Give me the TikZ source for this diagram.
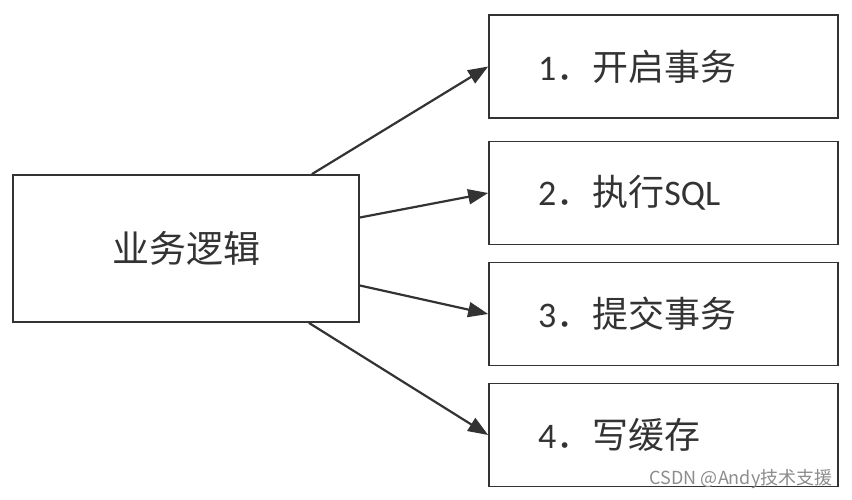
\documentclass[tikz,border=0pt]{standalone}
\usepackage{fontspec}
\setmainfont{Carlito}
\newfontfamily\cjk{Noto Sans CJK SC}
\usetikzlibrary{arrows.meta}
\definecolor{ink}{HTML}{333333}
\tikzset{
  stepbox/.style={draw=ink, line width=1.7pt, minimum height=103pt, text width=251pt,
    inner xsep=49pt, inner ysep=0pt, align=left, text=ink, font=\fontsize{36}{42}\selectfont},
  arr/.style={draw=ink, line width=2.2pt, -{Triangle[length=20pt,width=15pt]}}
}
\begin{document}
\begin{tikzpicture}[x=1pt,y=-1pt]
        \useasboundingbox (0,0) rectangle (852,500);
        \node[draw=ink, line width=1.7pt, minimum width=346pt, minimum height=147pt, inner sep=0pt,
          text=ink, font=\fontsize{37}{42}\selectfont] (biz) at (186,248.5) {\cjk 业务逻辑};
        \node[stepbox] (s1) at (663.5,66.5) {1{\cjk ．开启事务}};
        \node[stepbox] (s2) at (663.5,193) {2{\cjk ．执行}SQL};
        \node[stepbox] (s3) at (663.5,314) {3{\cjk ．提交事务}};
        \node[stepbox] (s4) at (663.5,435) {4{\cjk ．写缓存}};
        \draw[arr] ([xshift=-48pt]biz.north east) -- (s1.west);
        \draw[arr] ([yshift=31pt]biz.east) -- (s2.west);
        \draw[arr] ([yshift=-37pt]biz.east) -- (s3.west);
        \draw[arr] ([xshift=-51pt]biz.south east) -- (s4.west);
        \node[text=black!45, font=\cjk\fontsize{18}{20}\selectfont, anchor=east] (mark) at (836,479) {CSDN @Andy技术支援};
    \end{tikzpicture}
\end{document}
